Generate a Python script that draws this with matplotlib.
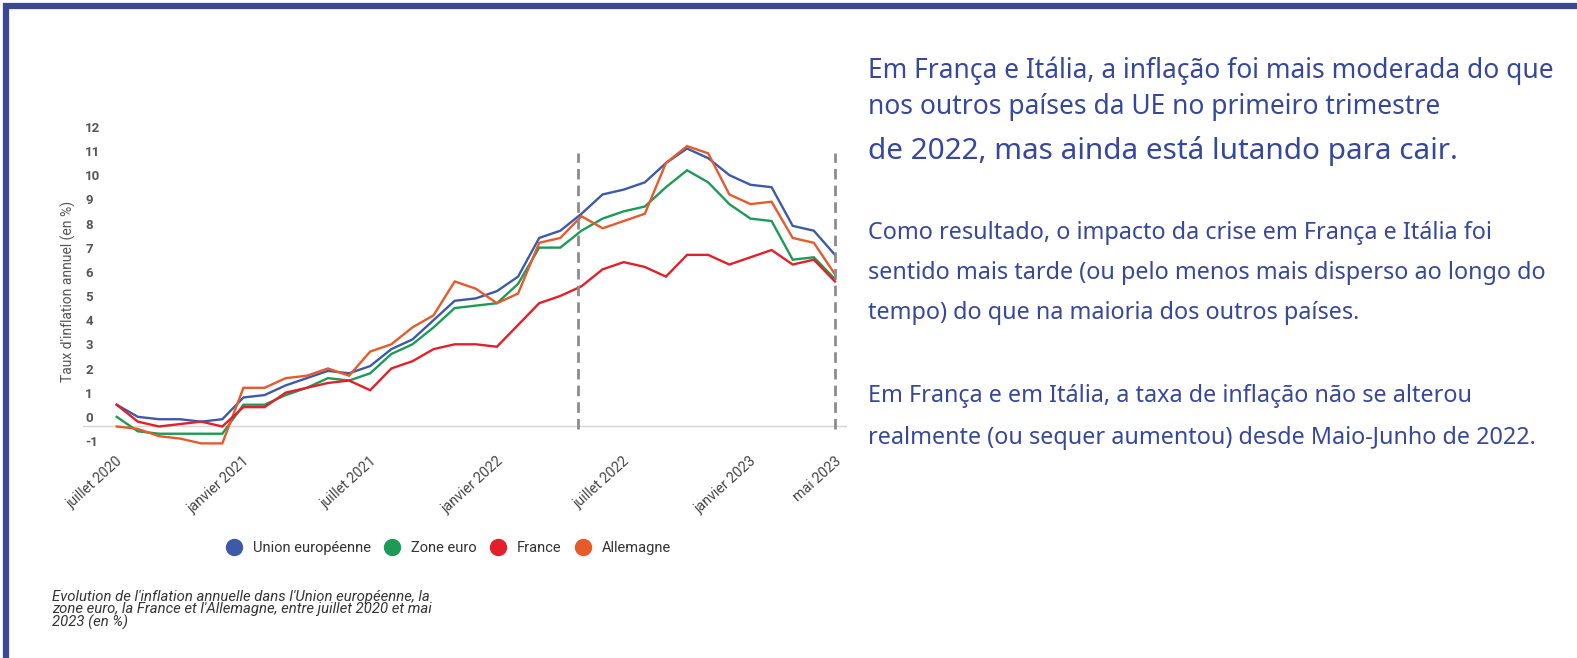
import matplotlib
matplotlib.use("Agg")
import matplotlib.pyplot as plt
import matplotlib.transforms as mtransforms
from matplotlib.lines import Line2D
import numpy as np

# monthly annual inflation rates, juillet 2020 -> mai 2023
union_eu = [0.9, 0.4, 0.3, 0.3, 0.2, 0.3, 1.2, 1.3, 1.7, 2.0, 2.3, 2.2,
            2.5, 3.2, 3.6, 4.4, 5.2, 5.3, 5.6, 6.2, 7.8, 8.1, 8.8, 9.6,
            9.8, 10.1, 10.9, 11.5, 11.1, 10.4, 10.0, 9.9, 8.3, 8.1, 7.1]
zone_euro = [0.4, -0.2, -0.3, -0.3, -0.3, -0.3, 0.9, 0.9, 1.3, 1.6, 2.0, 1.9,
             2.2, 3.0, 3.4, 4.1, 4.9, 5.0, 5.1, 5.9, 7.4, 7.4, 8.1, 8.6,
             8.9, 9.1, 9.9, 10.6, 10.1, 9.2, 8.6, 8.5, 6.9, 7.0, 6.1]
france = [0.9, 0.2, 0.0, 0.1, 0.2, 0.0, 0.8, 0.8, 1.4, 1.6, 1.8, 1.9,
          1.5, 2.4, 2.7, 3.2, 3.4, 3.4, 3.3, 4.2, 5.1, 5.4, 5.8, 6.5,
          6.8, 6.6, 6.2, 7.1, 7.1, 6.7, 7.0, 7.3, 6.7, 6.9, 6.0]
allemagne = [0.0, -0.1, -0.4, -0.5, -0.7, -0.7, 1.6, 1.6, 2.0, 2.1, 2.4, 2.1,
             3.1, 3.4, 4.1, 4.6, 6.0, 5.7, 5.1, 5.5, 7.6, 7.8, 8.7, 8.2,
             8.5, 8.8, 10.9, 11.6, 11.3, 9.6, 9.2, 9.3, 7.8, 7.6, 6.3]

series_names = ["Union européenne", "Zone euro", "France", "Allemagne"]
colors = ["#3d5aa9", "#1e9a57", "#e3202a", "#e65a2c"]

tick_idx = [0, 6, 12, 18, 24, 30, 34]
tick_labels = ["juillet 2020", "janvier 2021", "juillet 2021", "janvier 2022",
               "juillet 2022", "janvier 2023", "mai 2023"]
y_ticks = list(range(-1, 13))
marker_months = [21.85, 34]  # mai 2022, mai 2023

plt.rcParams['font.family'] = ['Roboto', 'DejaVu Sans']

W, H = 1577, 658
fig = plt.figure(figsize=(W / 100, H / 100), dpi=100)

ax = fig.add_axes([83 / W, 1 - 455 / H, (847 - 83) / W, (455 - 120) / H])
x = np.arange(len(union_eu))
for vals, c in zip([union_eu, zone_euro, allemagne, france], [colors[0], colors[1], colors[3], colors[2]]):
    ax.plot(x, vals, color=c, lw=1.7, solid_joinstyle='miter')

ax.axhline(0, color="#d5d5d5", lw=1, zorder=0)
ax.vlines(marker_months, -0.1, 11.3, colors="#8c8c8c", lw=2, linestyles=(0, (3.8, 2.2)))

ax.set_xlim(-1.595, 34.57)
ax.set_ylim(-1.18, 12.68)
for s in ax.spines.values():
    s.set_visible(False)
ax.set_yticks([])
ax.set_xticks(tick_idx, tick_labels, rotation=42, ha='right', va='center',
              rotation_mode='anchor', fontsize=10.3, color="#444444")
ax.tick_params(axis='x', length=0, pad=3)
shift = mtransforms.ScaledTranslation(4 / 100, 0, fig.dpi_scale_trans)
for lab in ax.get_xticklabels():
    lab.set_transform(lab.get_transform() + shift)

off = mtransforms.ScaledTranslation(0, 8 / 100, fig.dpi_scale_trans)
tr = mtransforms.blended_transform_factory(ax.transAxes, ax.transData) + off
for v in y_ticks:
    ax.text(0.003, v, str(v), transform=tr, ha='left', va='center',
            fontsize=9.5, color="#555555", fontweight='bold')

fig.text(68 / W, 1 - 291 / H, "Taux d'inflation annuel (en %)", rotation=90,
         ha='center', va='center', fontsize=10, color="#555555")

handles = [Line2D([], [], marker='o', ls='none', ms=11.5, color=c) for c in colors]
fig.legend(handles, series_names, loc='center', bbox_to_anchor=(448 / W, 1 - 548 / H),
           ncol=4, frameon=False, fontsize=10.5, handlelength=1.2, handletextpad=0.7,
           columnspacing=0.85, labelcolor="#333333")

fig.text(52 / W, 1 - 590 / H,
         "Evolution de l'inflation annuelle dans l'Union européenne, la\n"
         "zone euro, la France et l'Allemagne, entre juillet 2020 et mai\n"
         "2023 (en %)", ha='left', va='top', fontsize=10.7, style='italic',
         color="#333333", linespacing=0.86,
         family=['Liberation Sans Narrow', 'Roboto'])

blue = "#37479a"
tfam = ['Noto Sans', 'DejaVu Sans']
fig.text(868 / W, 1 - 71 / H, "Em França e Itália, a inflação foi mais moderada do que",
         ha='left', va='center', fontsize=19, color=blue, family=tfam)
fig.text(868 / W, 1 - 107 / H, "nos outros países da UE no primeiro trimestre",
         ha='left', va='center', fontsize=19, color=blue, family=tfam)
fig.text(868 / W, 1 - 151 / H, "de 2022, mas ainda está lutando para cair.",
         ha='left', va='center', fontsize=21.4, color=blue, family=tfam)

para = [("Como resultado, o impacto da crise em França e Itália foi", 233),
        ("sentido mais tarde (ou pelo menos mais disperso ao longo do", 273),
        ("tempo) do que na maioria dos outros países.", 313),
        ("Em França e em Itália, a taxa de inflação não se alterou", 396),
        ("realmente (ou sequer aumentou) desde Maio-Junho de 2022.", 438)]
for txt, yy in para:
    fig.text(868 / W, 1 - yy / H, txt, ha='left', va='center', fontsize=16.8,
             color=blue, family=tfam)

# frame border (top and left)
border = "#3a4896"
fig.add_artist(Line2D([3 / W, 1], [1 - 6 / H, 1 - 6 / H], color=border, lw=4.5,
                      solid_capstyle='butt', transform=fig.transFigure))
fig.add_artist(Line2D([6 / W, 6 / W], [1 - 3 / H, 0], color=border, lw=4.5,
                      solid_capstyle='butt', transform=fig.transFigure))

fig.savefig("out.png", dpi=100)
